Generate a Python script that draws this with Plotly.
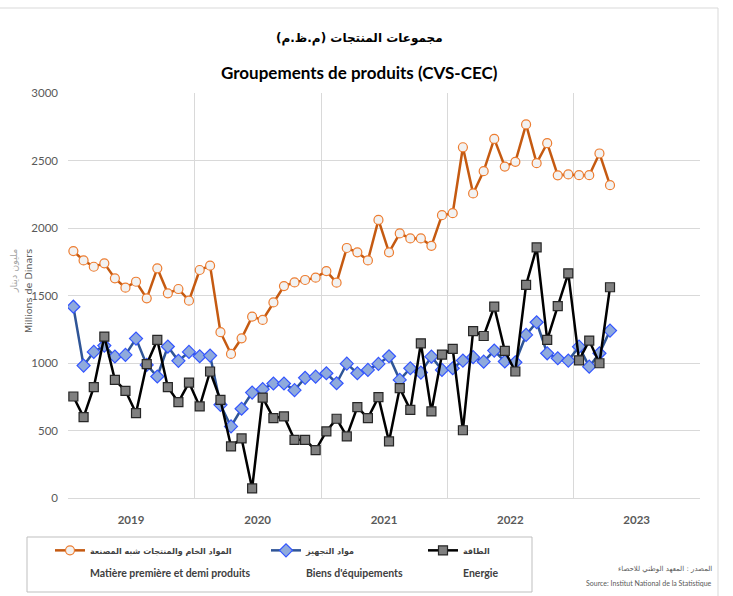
import plotly.graph_objects as go
import pandas as pd

# ---- data ----
months = pd.date_range("2019-01-01", periods=52, freq="MS").strftime("%Y-%m-%d").tolist()
years = ["2019", "2020", "2021", "2022", "2023"]
year_mid = ["2019-07-02", "2020-07-02", "2021-07-02", "2022-07-02", "2023-07-02"]
year_start = ["2019-01-01", "2020-01-01", "2021-01-01", "2022-01-01", "2023-01-01", "2024-01-01"]

matiere = [1829, 1760, 1713, 1738, 1627, 1558, 1602, 1479, 1701, 1516, 1548, 1462,
           1689, 1721, 1228, 1067, 1183, 1343, 1319, 1449, 1570, 1597, 1615, 1632,
           1681, 1595, 1852, 1820, 1760, 2060, 1819, 1960, 1923, 1923, 1868, 2095,
           2110, 2598, 2256, 2421, 2660, 2455, 2490, 2767, 2480, 2628, 2390, 2397,
           2391, 2391, 2552, 2317]
biens = [1417, 981, 1082, 1129, 1048, 1060, 1181, 986, 900, 1122, 1016, 1082,
         1050, 1055, 690, 530, 661, 781, 806, 848, 848, 799, 890, 899,
         924, 850, 995, 924, 949, 993, 1050, 875, 961, 929, 1047, 949,
         961, 1018, 1043, 1010, 1092, 1011, 1005, 1208, 1302, 1072, 1035, 1018,
         1121, 973, 1072, 1240]
energie = [752, 599, 821, 1196, 875, 794, 629, 991, 1171, 821, 710, 855,
           678, 937, 727, 382, 441, 71, 744, 592, 604, 431, 431, 355,
           493, 587, 456, 673, 592, 747, 419, 814, 653, 1146, 641, 1062,
           1105, 502, 1236, 1200, 1417, 1090, 937, 1578, 1856, 1171, 1422, 1664,
           1020, 1166, 998, 1561]

names = [
    ("المواد الخام والمنتجات شبه المصنعة", "Matière première et demi produits"),
    ("مواد التجهيز", "Biens d'équipements"),
    ("الطاقة", "Energie"),
]

FONT = "Lato, Roboto, sans-serif"
AFONT = "DejaVu Sans, sans-serif"
GRID = "#d9d9d9"

# plot-area pixel geometry helpers (for layout positioning only)
L, R, T, B = 68, 700, 93, 498
def px(x):
    return (x - L) / (R - L)
def py(y):
    return (B - y) / (B - T)

def lab(ar, fr):
    return (f"<span style='font-size:8px;font-family:DejaVu Sans'><b>{ar}</b></span><br><br>"
            f"<span style='font-size:10.5px'><b>{fr}</b></span>")

fig = go.Figure()
fig.add_trace(go.Scatter(
    x=months, y=matiere, mode="lines+markers", name=lab(*names[0]),
    xperiod="M1", xperiodalignment="middle", showlegend=True,
    line=dict(color="#C55A11", width=2.5),
    marker=dict(symbol="circle", size=9, color="#F2F2F2",
                line=dict(color="#ED7D31", width=1.2)),
    legend="legend"))
fig.add_trace(go.Scatter(
    x=months, y=biens, mode="lines+markers", name=lab(*names[1]),
    xperiod="M1", xperiodalignment="middle", showlegend=True,
    line=dict(color="#2F5597", width=2.5),
    marker=dict(symbol="diamond", size=10, color="#8FAADC",
                line=dict(color="#3355FF", width=1.2)),
    legend="legend2"))
fig.add_trace(go.Scatter(
    x=months, y=energie, mode="lines+markers", name=lab(*names[2]),
    xperiod="M1", xperiodalignment="middle", showlegend=True,
    line=dict(color="#000000", width=2.5),
    marker=dict(symbol="square", size=9, color="#808080",
                line=dict(color="#262626", width=1.2)),
    legend="legend3"))

leg_common = dict(yanchor="top", xanchor="left", bgcolor="rgba(0,0,0,0)",
                  borderwidth=0, itemwidth=30, valign="top",
                  font=dict(family=FONT, size=9, color="#404040"))

fig.update_layout(
    width=733, height=596, showlegend=True,
    margin=dict(l=L, r=733 - R, t=T, b=596 - B, autoexpand=False),
    paper_bgcolor="white", plot_bgcolor="white",
    font=dict(family=FONT, color="#595959"),
    legend=dict(x=px(50), y=py(538), **leg_common),
    legend2=dict(x=px(266), y=py(538), **leg_common),
    legend3=dict(x=px(423), y=py(538), **leg_common),
    xaxis=dict(
        type="date", range=["2019-01-01", "2024-01-01"],
        tickmode="array", tickvals=year_mid, ticktext=[f"<b>{y}</b>" for y in years],
        ticks="", showgrid=False, showline=True, linecolor=GRID, linewidth=1,
        tickfont=dict(family=FONT, size=11.5, color="#595959"),
        ticklabelstandoff=11,
        minor=dict(tickmode="array", tickvals=year_start, showgrid=True,
                   gridcolor=GRID, gridwidth=1, ticks=""),
        zeroline=False,
    ),
    yaxis=dict(
        range=[0, 3000], dtick=500, tick0=0, showgrid=True, gridcolor=GRID,
        gridwidth=1, zeroline=False, showline=False, ticks="",
        tickfont=dict(family=FONT, size=11.5, color="#595959"),
        ticklabelstandoff=9,
    ),
)

ann = [
    dict(text="<b>مجموعات المنتجات (م.ظ.م)</b>", x=px(359), y=py(38),
         font=dict(family=AFONT, size=12, color="#000000")),
    dict(text="<b>Groupements de produits (CVS-CEC)</b>", x=px(359), y=py(72),
         font=dict(family=FONT, size=17, color="#000000")),
    dict(text="مليون دينار", x=px(13), y=py(247), yanchor="top", textangle=-90,
         font=dict(family=AFONT, size=9.5, color="#a6a6a6")),
    dict(text="Millions de Dinars", x=px(28), y=py(247), yanchor="top", textangle=-90,
         font=dict(family=AFONT, size=9.5, color="#595959")),
    dict(text="المصدر : المعهد الوطني للاحصاء", x=px(714), y=py(569), xanchor="right",
         font=dict(family=AFONT, size=7, color="#595959")),
    dict(text="Source: Institut National de la Statistique", x=px(714), y=py(583), xanchor="right",
         font=dict(family=FONT, size=7, color="#595959")),
]
for a in ann:
    a.setdefault("xanchor", "center")
    a.setdefault("yanchor", "middle")
    fig.add_annotation(xref="paper", yref="paper", showarrow=False, **a)

# legend frame and outer frame
fig.add_shape(type="rect", xref="paper", yref="paper",
              x0=px(27), x1=px(532), y0=py(537), y1=py(592),
              line=dict(color="#bfbfbf", width=1), fillcolor="rgba(0,0,0,0)", layer="below")
fig.add_shape(type="line", xref="paper", yref="paper",
              x0=px(0), x1=px(718), y0=py(8), y1=py(8),
              line=dict(color="#d9d9d9", width=1))
fig.add_shape(type="line", xref="paper", yref="paper",
              x0=px(718), x1=px(718), y0=py(8), y1=py(600),
              line=dict(color="#d9d9d9", width=1))

fig.write_html("out.html", config={"displayModeBar": False},
               post_script="document.body.style.margin='0px';document.body.style.overflow='hidden';")
